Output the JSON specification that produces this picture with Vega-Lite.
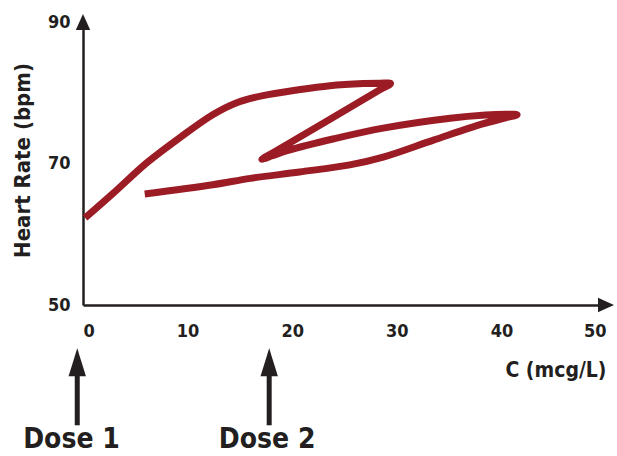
{
  "$schema": "https://vega.github.io/schema/vega-lite/v6.json",
  "autosize": "none",
  "width": 523,
  "height": 283,
  "padding": {"left": 83, "top": 22, "right": 11, "bottom": 151},
  "background": "white",
  "config": {
    "view": {"stroke": null},
    "font": "DejaVu Sans Condensed",
    "axis": {"grid": false, "ticks": false, "domainColor": "#231f20", "domainWidth": 2.5, "labelColor": "#231f20", "titleColor": "#231f20", "labelFont": "DejaVu Sans Condensed", "titleFont": "DejaVu Sans Condensed", "labelFontWeight": "bold", "titleFontWeight": "bold"}
  },
  "datasets": {
    "curve": [
      {"i": 1, "c": 0.2, "hr": 62.3},
      {"i": 2, "c": 2.9, "hr": 65.8},
      {"i": 3, "c": 6.1, "hr": 70.1},
      {"i": 4, "c": 9.3, "hr": 73.7},
      {"i": 5, "c": 12.4, "hr": 76.9},
      {"i": 6, "c": 14.7, "hr": 78.6},
      {"i": 7, "c": 17.2, "hr": 79.6},
      {"i": 8, "c": 20.5, "hr": 80.4},
      {"i": 9, "c": 23.6, "hr": 81.0},
      {"i": 10, "c": 26.8, "hr": 81.3},
      {"i": 11, "c": 28.4, "hr": 81.35},
      {"i": 12, "c": 29.4, "hr": 81.3},
      {"i": 13, "c": 28.3, "hr": 80.35},
      {"i": 14, "c": 18.2, "hr": 71.55},
      {"i": 15, "c": 17.1, "hr": 70.6},
      {"i": 16, "c": 18.1, "hr": 71.1},
      {"i": 17, "c": 19.6, "hr": 71.85},
      {"i": 18, "c": 24.0, "hr": 73.5},
      {"i": 19, "c": 28.7, "hr": 75.0},
      {"i": 20, "c": 35.1, "hr": 76.4},
      {"i": 21, "c": 38.5, "hr": 76.85},
      {"i": 22, "c": 40.4, "hr": 76.95},
      {"i": 23, "c": 41.5, "hr": 76.9},
      {"i": 24, "c": 40.4, "hr": 76.45},
      {"i": 25, "c": 38.2, "hr": 75.6},
      {"i": 26, "c": 33.5, "hr": 73.3},
      {"i": 27, "c": 28.7, "hr": 70.9},
      {"i": 28, "c": 25.5, "hr": 69.8},
      {"i": 29, "c": 20.7, "hr": 68.8},
      {"i": 30, "c": 16.0, "hr": 67.9},
      {"i": 31, "c": 12.4, "hr": 67.0},
      {"i": 32, "c": 5.9, "hr": 65.7}
    ],
    "axisArrows": [
      {"c": 0, "hr": 90, "dir": "up"},
      {"c": 50, "hr": 50, "dir": "right"}
    ],
    "doses": [
      {"label": "Dose 1", "c": -0.55, "ctext": -1.1, "head": 41.9, "top": 40.8, "bottom": 33.0, "texty": 30.9},
      {"label": "Dose 2", "c": 17.8, "ctext": 17.6, "head": 41.9, "top": 40.8, "bottom": 33.0, "texty": 30.9}
    ]
  },
  "layer": [
    {
      "data": {"name": "curve"},
      "mark": {"type": "line", "color": "#9b1c25", "strokeWidth": 7, "interpolate": "catmull-rom", "strokeCap": "butt", "strokeJoin": "miter", "strokeMiterLimit": 2.5, "clip": false},
      "encoding": {
        "x": {"field": "c", "type": "quantitative", "scale": {"domain": [0, 50], "nice": false, "zero": false},
          "axis": {"values": [0, 10, 20, 30, 40, 50], "labelFontSize": 18, "labelPadding": 17, "title": "C (mcg/L)", "titleFontSize": 21, "titleX": 523, "titleY": 65, "titleAlign": "right", "titleBaseline": "middle"}},
        "y": {"field": "hr", "type": "quantitative", "scale": {"domain": [50, 90], "nice": false, "zero": false},
          "axis": {"values": [50, 70, 90], "labelFontSize": 18, "labelPadding": 13, "title": "Heart Rate (bpm)", "titleFontSize": 22, "titleX": -61, "titleY": 138, "titleAngle": -90, "titleAlign": "center", "titleBaseline": "middle"}},
        "order": {"field": "i", "type": "quantitative"}
      }
    },
    {
      "data": {"name": "axisArrows"},
      "transform": [{"filter": "datum.dir === 'up'"}],
      "mark": {"type": "point", "shape": "M0,-1L0.9,1L-0.9,1Z", "filled": true, "color": "#231f20", "size": 256, "opacity": 1, "clip": false},
      "encoding": {"x": {"field": "c", "type": "quantitative"}, "y": {"field": "hr", "type": "quantitative"}}
    },
    {
      "data": {"name": "axisArrows"},
      "transform": [{"filter": "datum.dir === 'right'"}],
      "mark": {"type": "point", "shape": "M1,0L-1,-0.9L-1,0.9Z", "filled": true, "color": "#231f20", "size": 256, "opacity": 1, "clip": false},
      "encoding": {"x": {"field": "c", "type": "quantitative"}, "y": {"field": "hr", "type": "quantitative"}}
    },
    {
      "data": {"name": "doses"},
      "mark": {"type": "rule", "color": "#231f20", "strokeWidth": 5, "clip": false},
      "encoding": {"x": {"field": "c", "type": "quantitative"}, "y": {"field": "top", "type": "quantitative"}, "y2": {"field": "bottom"}}
    },
    {
      "data": {"name": "doses"},
      "mark": {"type": "point", "shape": "M0,-1L0.62,1L-0.62,1Z", "filled": true, "color": "#231f20", "size": 784, "opacity": 1, "clip": false},
      "encoding": {"x": {"field": "c", "type": "quantitative"}, "y": {"field": "head", "type": "quantitative"}}
    },
    {
      "data": {"name": "doses"},
      "mark": {"type": "text", "fontSize": 28, "fontWeight": "bold", "color": "#231f20", "font": "DejaVu Sans Condensed", "baseline": "middle", "align": "center", "clip": false},
      "encoding": {"x": {"field": "ctext", "type": "quantitative"}, "y": {"field": "texty", "type": "quantitative"}, "text": {"field": "label"}}
    }
  ]
}
